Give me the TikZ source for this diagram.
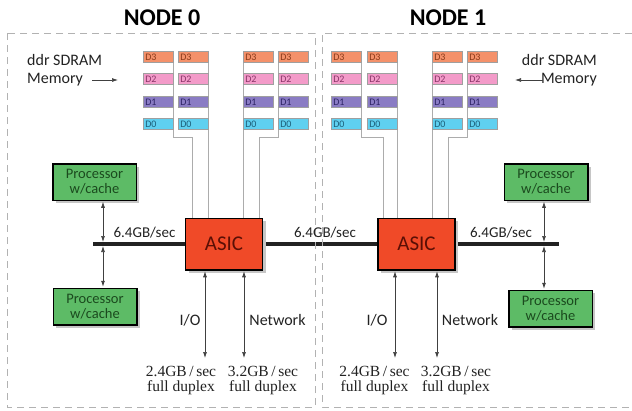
\documentclass[tikz,border=0pt]{standalone}
\usepackage{fontspec}
\setmainfont{Carlito}
\newfontfamily\serifff{Liberation Serif}
\usetikzlibrary{arrows.meta,backgrounds,shadows}
\definecolor{cthree}{HTML}{F4916A}\definecolor{tthree}{HTML}{8A3A1A}
\definecolor{ctwo}{HTML}{F39BC9}\definecolor{ttwo}{HTML}{8A3468}
\definecolor{cone}{HTML}{8A7CC4}\definecolor{tone}{HTML}{2E2466}
\definecolor{czero}{HTML}{5FD0F0}\definecolor{tzero}{HTML}{1D5F7A}
\definecolor{asicred}{HTML}{F04A28}\definecolor{asictext}{HTML}{5A0F05}
\definecolor{procgreen}{HTML}{5DBB66}\definecolor{proctext}{HTML}{1B4A1E}
\definecolor{ink}{HTML}{222222}
\begin{document}
\begin{tikzpicture}[x=1pt,y=-1pt,
  chip/.style={draw=gray!75, line width=0.6pt, minimum width=30pt, minimum height=11pt,
    inner sep=0pt, text width=26pt, align=left, font=\fontsize{10}{10}\selectfont, anchor=north west},
  chip3/.style={fill=cthree,text=tthree}, chip2/.style={fill=ctwo,text=ttwo},
  chip1/.style={fill=cone,text=tone}, chip0/.style={fill=czero,text=tzero},
  shad/.style={drop shadow={shadow xshift=3pt, shadow yshift=-3pt, fill=gray!45, opacity=1}},
  asic/.style={shad, draw=black, line width=1.5pt, fill=asicred, text=asictext,
    minimum width=77pt, minimum height=51.5pt, inner sep=0pt, font=\fontsize{21}{21}\selectfont},
  proc/.style={shad, draw=black, line width=1.5pt, fill=procgreen, text=proctext, align=center,
    minimum width=83.5pt, minimum height=36.5pt, inner sep=0pt, font=\fontsize{14.5}{15}\selectfont},
  wire/.style={draw=gray!65, line width=0.8pt},
  bus/.style={draw=ink, line width=4pt},
  dbl/.style={{Latex[length=6pt,width=4pt]}-{Latex[length=6pt,width=4pt]}, line width=0.7pt, draw=black!75},
  sarr/.style={-{Latex[length=6pt,width=4pt]}, line width=0.7pt, draw=black!75},
  frame/.style={draw=gray!60, line width=1pt, dash pattern=on 7pt off 5pt},
  title/.style={font=\bfseries\fontsize{24}{24}\selectfont, text=black},
  lbl/.style={font=\fontsize{16}{16}\selectfont, text=ink, inner sep=0pt},
  buslbl/.style={font=\fontsize{15}{15}\selectfont, text=ink, inner sep=0pt},
  serlbl/.style={font=\serifff\fontsize{15.5}{15}\selectfont, text=ink, align=center, inner sep=0pt}
]
\useasboundingbox (0,0) rectangle (632,410);

% frames
\draw[frame] (7,33) rectangle (315,407);
\draw[frame] (632,33) -- (322,33) -- (322,407) -- (632,407);

% titles
\node[title] (t0) at (162,18) {NODE 0};
\node[title] (t1) at (448,18) {NODE 1};

% memory chips
\foreach \nd/\col/\x in {L/a/143, L/b/178, L/c/243, L/d/278, R/a/331, R/b/367, R/c/432, R/d/467} {
  \foreach \r/\y in {3/51, 2/73, 1/96, 0/118} {
    \node[chip, chip\r] (\nd\col\r) at (\x,\y) {D\r};
  }
}

% ASICs
\node[asic] (asicL) at (224,244) {ASIC};
\node[asic] (asicR) at (416.5,244) {ASIC};

% processors
\node[proc] (PL1) at (94.5,182) {Processor\\w/cache};
\node[proc] (PL2) at (95,306.5) {Processor\\w/cache};
\node[proc] (PR1) at (546,182) {Processor\\w/cache};
\node[proc] (PR2) at (550.5,308.5) {Processor\\w/cache};

% coordinates
\coordinate (bLa) at (192,137);
\coordinate (bLd) at (259,137);
\coordinate (bRa) at (383,137);
\coordinate (bRd) at (448,137);
\coordinate (busL) at (93,244);
\coordinate (busR) at (559,244);
\coordinate (aL) at (103,244);
\coordinate (aR) at (544,244);
\coordinate (ioL) at (205,358);
\coordinate (netL) at (244,358);
\coordinate (ioR) at (395,358);
\coordinate (netR) at (437,358);
\coordinate (memLend) at (118,80);
\coordinate (memRend) at (515,80);

\begin{scope}[on background layer]
  \draw[wire] (La3.north east) |- (bLa) -- (bLa |- asicL.north);
  \draw[wire] (Lb3.north east) -- (Lb3.north east |- asicL.north);
  \draw[wire] (Lc3.north west) -- (Lc3.north west |- asicL.north);
  \draw[wire] (Ld3.north west) |- (bLd) -- (bLd |- asicL.north);
  \draw[wire] (Ra3.north east) |- (bRa) -- (bRa |- asicR.north);
  \draw[wire] (Rb3.north east) -- (Rb3.north east |- asicR.north);
  \draw[wire] (Rc3.north west) -- (Rc3.north west |- asicR.north);
  \draw[wire] (Rd3.north west) |- (bRd) -- (bRd |- asicR.north);
  \draw[bus] (busL) -- (asicL);
  \draw[bus] (asicL) -- (asicR);
  \draw[bus] (asicR) -- (busR);
\end{scope}

% processor links
\draw[dbl, shorten <=0.75pt] (PL1.south -| aL) -- ([yshift=2pt]aL);
\draw[dbl, shorten >=0.75pt] ([yshift=-2pt]aL) -- (PL2.north -| aL);
\draw[dbl, shorten <=0.75pt] (PR1.south -| aR) -- ([yshift=2pt]aR);
\draw[dbl, shorten >=0.75pt] ([yshift=-2pt]aR) -- (PR2.north -| aR);

% I/O and network links
\draw[dbl, shorten <=0.75pt] (asicL.south -| ioL) -- (ioL);
\draw[dbl, shorten <=0.75pt] (asicL.south -| netL) -- (netL);
\draw[dbl, shorten <=0.75pt] (asicR.south -| ioR) -- (ioR);
\draw[dbl, shorten <=0.75pt] (asicR.south -| netR) -- (netR);

% memory labels
\node[lbl, anchor=west] (ddrL) at (27,60) {ddr SDRAM};
\node[lbl, anchor=west] (memL) at (27,80) {Memory};
\coordinate (memLstart) at (92,80);
\draw[sarr] (memLstart) -- (memLend);
\node[lbl, anchor=east] (ddrR) at (597,60) {ddr SDRAM};
\node[lbl, anchor=east] (memR) at (597,80) {Memory};
\coordinate (memRstart) at (543,80);
\draw[sarr] (memRstart) -- (memRend);

% bus labels
\node[buslbl] (bw1) at (144.5,233) {6.4GB/sec};
\node[buslbl] (bw2) at (325,233) {6.4GB/sec};
\node[buslbl] (bw3) at (501,233) {6.4GB/sec};

% I/O labels
\node[lbl] (ioLl) at (190,320) {I/O};
\node[lbl] (netLl) at (277.5,320) {Network};
\node[lbl] (ioRl) at (377,320) {I/O};
\node[lbl] (netRl) at (470,320) {Network};

\node[serlbl] (sL1) at (181,381) {2.4GB\,/\,sec\\full duplex};
\node[serlbl] (sL2) at (263,381) {3.2GB\,/\,sec\\full duplex};
\node[serlbl] (sR1) at (374.5,381) {2.4GB\,/\,sec\\full duplex};
\node[serlbl] (sR2) at (456,381) {3.2GB\,/\,sec\\full duplex};
\end{tikzpicture}
\end{document}
